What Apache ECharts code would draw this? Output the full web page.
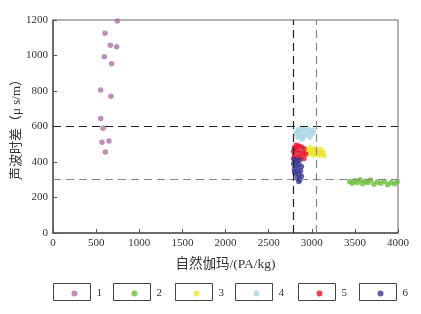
<!DOCTYPE html>
<html><head><meta charset="utf-8">
<script src="https://cdn.jsdelivr.net/npm/echarts@6/dist/echarts.min.js"></script>
<style>html,body{margin:0;padding:0;background:#fff}#c{width:421px;height:314px}</style>
</head><body><div id="c"></div>
<script>
var seriesNames = ['1','2','3','4','5','6'];
var colors = ['#b070a8','#6abf3c','#eee42a','#a9d6e6','#e5112c','#3b3a94'];
var s1 = [[746,1195],[603,1125],[665,1058],[738,1050],[595,993],[680,953],[553,805],[672,770],[553,645],[580,590],[568,511],[649,519],[607,457]];
var s2 = [[3440,290],[3470,280],[3500,295],[3530,285],[3560,300],[3590,278],[3620,292],[3650,285],[3680,298],[3720,275],[3760,288],[3800,280],[3840,292],[3880,272],[3920,285],[3960,278],[3990,290]];
var s3 = [[2950,470],[2980,480],[3010,465],[3040,475],[3070,460],[3100,470],[3130,455],[2960,445],[2990,455],[3020,440],[3050,450],[3080,440],[3110,445],[3140,435]];
var s4 = [[2820,560],[2850,585],[2880,570],[2900,590],[2930,575],[2960,585],[2990,570],[3020,580],[2840,540],[2870,550],[2910,545],[2950,555],[2980,540],[3010,560],[2890,530],[2830,575]];
var s5 = [[2800,480],[2820,495],[2850,490],[2880,485],[2910,475],[2790,460],[2830,465],[2860,455],[2900,450],[2930,445],[2800,440],[2840,430],[2870,425],[2910,420],[2790,420],[2820,410]];
var s6 = [[2800,415],[2830,405],[2860,410],[2790,390],[2820,380],[2850,385],[2880,375],[2800,360],[2840,355],[2870,350],[2810,335],[2850,330],[2880,320],[2830,310],[2860,300],[2850,290],[2800,345]];
var seriesData = [s1,s2,s3,s4,s5,s6];
var hLines = [600, 305];
var vLines = [2790, 3055];

var chart = echarts.init(document.getElementById('c'));
var font = '"Liberation Serif", "Noto Sans CJK SC", serif';
var series = seriesNames.map(function(n,i){
  return {name:n, type:'scatter', data:seriesData[i], symbolSize:5.5,
    itemStyle:{color:colors[i]}, z:3};
});
series[0].markLine = {
  silent:true, symbol:'none', label:{show:false},
  data:[
    {yAxis:hLines[0], lineStyle:{color:'#222', type:[8,5], width:1.2}},
    {yAxis:hLines[1], lineStyle:{color:'#888', type:[8,5], width:1.2}},
    {xAxis:vLines[0], lineStyle:{color:'#222', type:[8,5], width:1.2}},
    {xAxis:vLines[1], lineStyle:{color:'#888', type:[8,5], width:1.2}}
  ]
};
var boxX = [51,111,173,233,296,357];
var boxes = boxX.map(function(x){
  return {type:'rect', left:x, top:281, shape:{width:37,height:17}, style:{fill:'none', stroke:'#444', lineWidth:1}, z:1};
});
var legends = seriesNames.map(function(n,i){
  return {data:[n], left:boxX[i]+15.5, top:283, icon:'circle', itemWidth:6, itemHeight:6,
    textStyle:{fontFamily:font, fontSize:11, color:'#333', padding:[0,0,0,14]}};
});
chart.setOption({
  animation:false,
  grid:{left:53, right:23, top:20, bottom:81, show:true, borderColor:'#666', borderWidth:1, containLabel:false, outerBoundsMode:'none'},
  xAxis:{type:'value', min:0, max:4000, interval:500,
    name:'自然伽玛/(PA/kg)', nameLocation:'middle', nameGap:25, nameMoveOverlap:false,
    nameTextStyle:{fontFamily:font, fontSize:13.5, color:'#333'},
    axisLine:{lineStyle:{color:'#555', width:1.5}},
    axisTick:{inside:true, length:4, lineStyle:{color:'#555'}},
    axisLabel:{fontFamily:font, fontSize:11, color:'#333', margin:5, formatter:function(v){return String(v);}},
    splitLine:{show:false}},
  yAxis:{type:'value', min:0, max:1200, interval:200,
    name:'声波时差（μ s/m）', nameLocation:'middle', nameGap:30, nameMoveOverlap:false,
    nameTextStyle:{fontFamily:font, fontSize:13, color:'#333'},
    axisLine:{show:true, lineStyle:{color:'#555', width:1.5}},
    axisTick:{show:true, inside:true, length:4, lineStyle:{color:'#555'}},
    axisLabel:{fontFamily:font, fontSize:11, color:'#333', margin:5, formatter:function(v){return String(v);}},
    splitLine:{show:false}},
  legend:legends,
  graphic:boxes,
  series:series
});
</script></body></html>
